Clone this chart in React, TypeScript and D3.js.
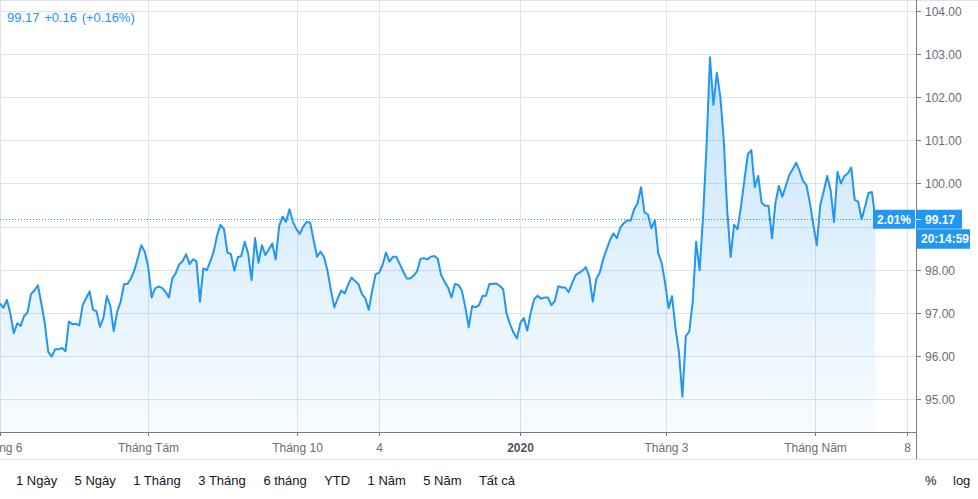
import React from "react";
import * as d3 from "d3";

// ---- data ----
const values: number[] = [
  97.22, 97.12, 97.30, 96.99, 96.53, 96.76, 96.70, 96.93, 97.01, 97.44,
  97.52, 97.64, 97.22, 96.76, 96.10, 95.99, 96.16, 96.16, 96.19, 96.11,
  96.80, 96.74, 96.75, 96.71, 97.18, 97.34, 97.50, 97.07, 97.04, 96.68,
  96.88, 97.39, 97.16, 96.58, 97.03, 97.26, 97.67, 97.67, 97.80, 97.99,
  98.27,
  98.57, 98.42, 98.07, 97.36, 97.57, 97.61, 97.58, 97.49, 97.36, 97.80,
  97.92, 98.13, 98.20, 98.36, 98.13, 98.24, 98.20, 97.26, 98.03, 97.99,
  98.19, 98.42, 98.80, 99.04, 98.94, 98.40, 98.36, 97.98, 98.29, 98.32,
  98.65, 98.38, 97.76, 98.73, 98.16, 98.57, 98.34, 98.47, 98.61, 98.24,
  99.01, 99.23, 99.11, 99.40,
  99.11, 98.94, 98.83, 99.00, 99.11, 99.09, 98.69, 98.30, 98.42, 98.30,
  97.99, 97.53, 97.13, 97.34, 97.52, 97.45, 97.65, 97.82, 97.74, 97.67,
  97.44, 97.34, 97.07, 97.52, 97.90, 97.93, 98.11, 98.40, 98.19, 98.30,
  98.30, 98.13, 97.96, 97.80, 97.80, 97.86, 97.96, 98.25, 98.27, 98.24,
  98.30, 98.32,
  98.26, 97.88, 97.72, 97.59, 97.36, 97.67, 97.65, 97.52, 97.14, 96.67,
  97.16, 97.13, 97.18, 97.39, 97.40, 97.67, 97.67, 97.68, 97.63, 97.55,
  96.98, 96.74, 96.54, 96.41, 96.77, 96.88, 96.59, 97.01, 97.32, 97.40,
  97.33, 97.36, 97.36, 97.18, 97.28, 97.62, 97.59, 97.59, 97.48, 97.69,
  97.87, 97.93,
  97.98, 98.06, 97.84, 97.26, 97.78, 97.93, 98.24, 98.47, 98.69, 98.84,
  98.73, 98.98, 99.08, 99.14, 99.14, 99.40, 99.54, 99.91, 99.33, 99.28,
  98.96, 99.15, 98.38, 98.15, 97.69, 97.11, 97.39, 96.64, 96.10, 95.06,
  96.47, 96.57, 97.26, 98.65, 97.99, 99.23, 100.85, 102.92, 101.82, 102.56,
  102.01, 101.01,
  99.38, 98.30, 99.04, 98.94, 99.46, 100.08, 100.68, 100.77, 99.91, 100.17,
  99.55, 99.48, 99.48, 98.73, 99.55, 99.94, 99.69, 99.94, 100.19, 100.33,
  100.48, 100.29, 100.06, 99.96, 99.55, 99.04, 98.57, 99.50, 99.81, 100.17,
  99.85, 99.11, 100.27, 100.00, 100.17, 100.23, 100.37, 99.62, 99.58, 99.17,
  99.46, 99.78, 99.80, 99.17,
];

const dataStart = "2019-06-01";
const dataEnd = "2020-05-26";
const axisStart = "2019-06-01";
const axisEnd = "2020-06-08";

const xTickDates = ["2019-06-01", "2019-08-01", "2019-10-01", "2019-11-04", "2020-01-01", "2020-03-01", "2020-05-01", "2020-06-08"];
const xTickLabels = ["Tháng 6", "Tháng Tám", "Tháng 10", "4", "2020", "Tháng 3", "Tháng Năm", "8"];
const yTickValues = [95, 96, 97, 98, 99, 100, 101, 102, 103, 104];

const headerPrice = "99.17";
const headerChange = "+0.16";
const headerPct = "(+0.16%)";
const lastPrice = 99.17;
const lastPctLabel = "2.01%";
const countdownLabel = "20:14:59";

const rangeButtons = ["1 Ngày", "5 Ngày", "1 Tháng", "3 Tháng", "6 tháng", "YTD", "1 Năm", "5 Năm", "Tất cả"];
const rightButtons = ["%", "log"];

// ---- layout ----
const W = 978;
const H = 499;
const plotRight = 916;
const axisY = 432;
const BLUE = "#2196f3";
const GRID = "#e0e3eb";
const AXIS = "#787b86";
const TEXT = "#6a6d78";
const FONT = "'Liberation Sans', Arial, sans-serif";

function measure(text: string, font: string): number {
  if (typeof document === "undefined") return text.length * 7;
  const c = document.createElement("canvas");
  const ctx = c.getContext("2d");
  if (!ctx) return text.length * 7;
  ctx.font = font;
  return ctx.measureText(text).width;
}

export default function App() {
  const x = d3
    .scaleUtc()
    .domain([new Date(axisStart), new Date(axisEnd)])
    .range([0, 907]);
  const y = d3.scaleLinear().domain([95, 104]).range([399.3, 10.7]);

  const t0 = new Date(dataStart).getTime();
  const t1 = new Date(dataEnd).getTime();
  const n = values.length;
  const pts = values.map((v, i) => ({
    date: new Date(t0 + ((t1 - t0) * i) / (n - 1)),
    value: v,
  }));

  const line = d3
    .line<{ date: Date; value: number }>()
    .x((d) => x(d.date))
    .y((d) => y(d.value));
  const area = d3
    .area<{ date: Date; value: number }>()
    .x((d) => x(d.date))
    .y0(axisY)
    .y1((d) => y(d.value));

  const ly = y(lastPrice);

  // toolbar layout
  const btnFont = `13px ${FONT}`;
  let bx = 16;
  const btnPos = rangeButtons.map((b) => {
    const p = bx;
    bx += measure(b, btnFont) + 17.4;
    return p;
  });

  // y labels hidden behind the price/countdown boxes
  const visibleY = yTickValues.filter((v) => {
    const yy = y(v);
    return !(yy > ly - 12 && yy < ly + 31);
  });

  return (
    <svg
      width={W}
      height={H}
      style={{ position: "absolute", left: 0, top: 0, background: "#fff" }}
      fontFamily={FONT}
    >
      <defs>
        <linearGradient id="fillGrad" gradientUnits="userSpaceOnUse" x1="0" y1="57" x2="0" y2={axisY}>
          <stop offset="0" stopColor={BLUE} stopOpacity={0.26} />
          <stop offset="1" stopColor={BLUE} stopOpacity={0.03} />
        </linearGradient>
        <clipPath id="plotClip">
          <rect x={0} y={0} width={plotRight} height={axisY} />
        </clipPath>
      </defs>

      {/* border top */}
      <line x1={0} x2={W} y1={0.5} y2={0.5} stroke={GRID} />

      {/* grid */}
      {yTickValues.map((v) => (
        <line key={"gy" + v} x1={0} x2={plotRight} y1={Math.round(y(v)) + 0.5} y2={Math.round(y(v)) + 0.5} stroke={GRID} />
      ))}
      {xTickDates.map((d) => (
        <line key={"gx" + d} x1={Math.round(x(new Date(d))) + 0.5} x2={Math.round(x(new Date(d))) + 0.5} y1={0} y2={axisY} stroke={GRID} />
      ))}

      {/* area + line */}
      <g clipPath="url(#plotClip)">
        <path d={area(pts) || ""} fill="url(#fillGrad)" />
        <path d={line(pts) || ""} fill="none" stroke={BLUE} strokeWidth={2} strokeLinejoin="round" />
        <line x1={0} x2={plotRight} y1={Math.round(ly) + 0.5} y2={Math.round(ly) + 0.5} stroke={BLUE} strokeWidth={1} strokeDasharray="1 2" />
      </g>

      {/* x axis */}
      <line x1={0} x2={plotRight} y1={axisY + 0.5} y2={axisY + 0.5} stroke={AXIS} />
      {xTickDates.map((d, i) => {
        const xx = Math.round(x(new Date(d))) + 0.5;
        const isYear = xTickLabels[i] === "2020";
        return (
          <g key={"xt" + d}>
            <line x1={xx} x2={xx} y1={axisY} y2={axisY + 4} stroke={AXIS} />
            <text
              x={xx}
              y={452}
              textAnchor="middle"
              fontSize={12}
              fill={isYear ? "#50535e" : TEXT}
              fontWeight={isYear ? 700 : 400}
            >
              {xTickLabels[i]}
            </text>
          </g>
        );
      })}

      {/* y axis */}
      <line x1={plotRight + 0.5} x2={plotRight + 0.5} y1={0} y2={459} stroke={AXIS} />
      {yTickValues.map((v) => {
        const yy = Math.round(y(v)) + 0.5;
        return <line key={"ytk" + v} x1={plotRight} x2={plotRight + 5} y1={yy} y2={yy} stroke={AXIS} />;
      })}
      {visibleY.map((v) => {
        const yy = Math.round(y(v)) + 0.5;
        return (
          <text key={"yt" + v} x={925} y={yy} dy="0.35em" fontSize={12} fill={TEXT}>
            {v.toFixed(2)}
          </text>
        );
      })}

      {/* price labels */}
      <rect x={873} y={ly - 9.5} width={42} height={19} fill={BLUE} />
      <text x={894} y={ly} dy="0.36em" textAnchor="middle" fontSize={12} fontWeight={700} fill="#fff">
        {lastPctLabel}
      </text>
      <rect x={plotRight} y={ly - 9.5} width={46} height={19} fill={BLUE} />
      <line x1={plotRight} x2={plotRight + 5} y1={Math.round(ly) + 0.5} y2={Math.round(ly) + 0.5} stroke="#fff" />
      <text x={925} y={ly} dy="0.36em" fontSize={12} fontWeight={700} fill="#fff">
        {lastPrice.toFixed(2)}
      </text>
      <rect x={plotRight + 1} y={ly + 10} width={53} height={19.5} fill={BLUE} />
      <text x={921} y={ly + 19.8} dy="0.36em" fontSize={12} fontWeight={700} fill="#fff">
        {countdownLabel}
      </text>

      {/* header */}
      <text x={7} y={22} fontSize={13} fill={BLUE} wordSpacing={1}>
        {`${headerPrice} ${headerChange} ${headerPct}`}
      </text>

      {/* toolbar */}
      <line x1={0} x2={W} y1={459.5} y2={459.5} stroke={GRID} />
      {rangeButtons.map((b, i) => (
        <text key={b} x={btnPos[i]} y={485} fontSize={13} fill="#131722">
          {b}
        </text>
      ))}
      <text x={925} y={485} fontSize={13} fill="#131722">
        {rightButtons[0]}
      </text>
      <text x={953} y={485} fontSize={13} fill="#131722">
        {rightButtons[1]}
      </text>
    </svg>
  );
}
